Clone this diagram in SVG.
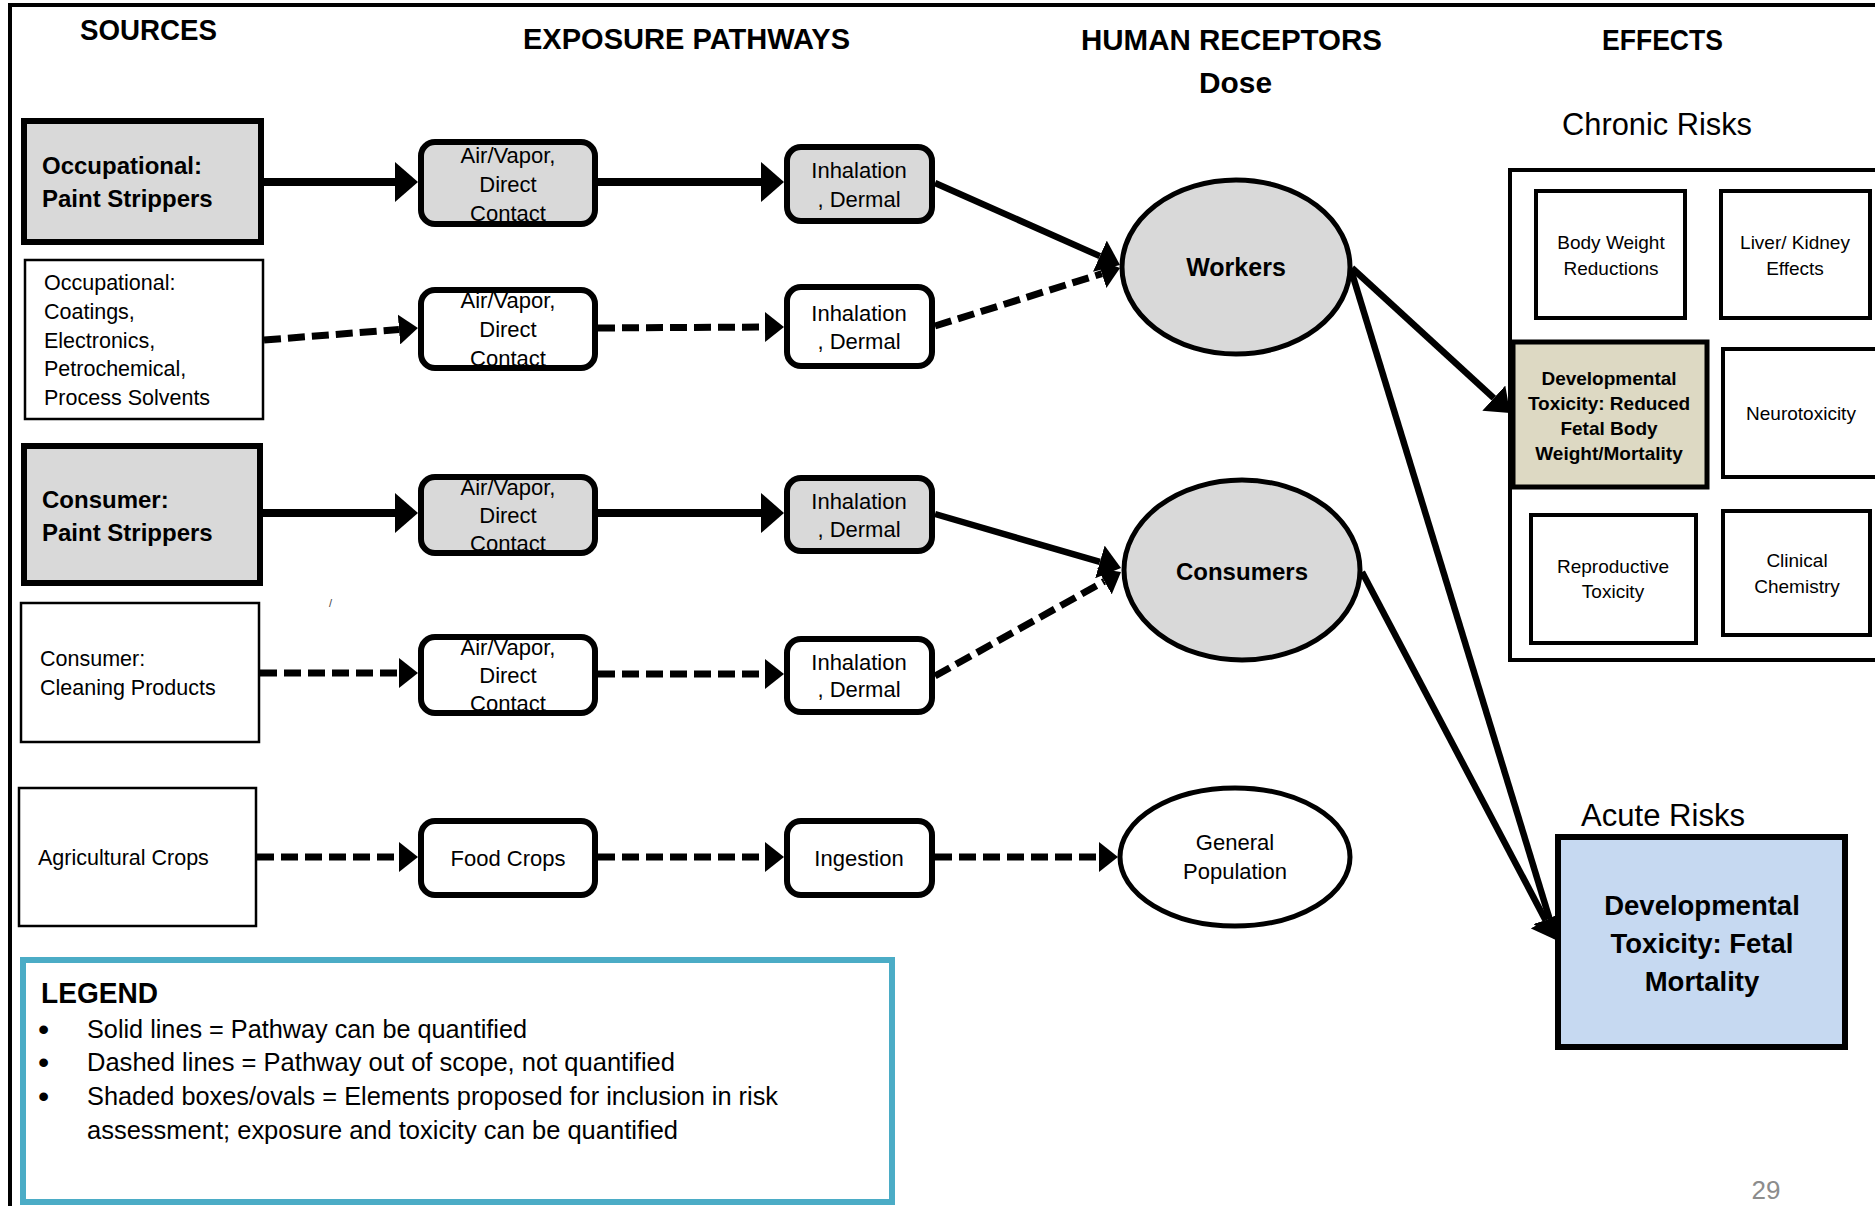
<svg xmlns="http://www.w3.org/2000/svg" width="1875" height="1206" viewBox="0 0 1875 1206">
<defs>
<style>
text{font-family:"Liberation Sans",Arial,sans-serif;fill:#000}
.b{font-weight:bold}
.c{text-anchor:middle}
.h{font-size:29px;font-weight:bold}
.src{font-size:21.5px}
.srcb{font-size:24px;font-weight:bold}
.pw{font-size:22px;text-anchor:middle}
.ef{font-size:19px;text-anchor:middle}
.box{stroke:#000;fill:#fff}
.shade{fill:#d9d9d9}
.thick{stroke-width:6}
.thin{stroke-width:2.5}
.rr{stroke:#000;stroke-width:6;fill:#fff}
.rr.shade{fill:#d9d9d9}
.ell{stroke:#000;stroke-width:5;fill:#fff}
.ell.shade{fill:#d9d9d9}
.eb{stroke:#000;stroke-width:4;fill:#fff}
.sol{stroke:#000;stroke-width:8;fill:none}
.sold{stroke:#000;stroke-width:6.5;fill:none}
.dash{stroke:#000;stroke-width:7;fill:none;stroke-dasharray:17 7}
.leg{font-size:25px}
.bul{font-size:32px}
</style>
<marker id="arr" viewBox="0 0 23 40" refX="0" refY="20" markerWidth="23" markerHeight="40" orient="auto" markerUnits="userSpaceOnUse"><path d="M0,0 L23,20 L0,40 z" fill="#000"/></marker>
<marker id="arrm" viewBox="0 0 22 34" refX="0" refY="17" markerWidth="22" markerHeight="34" orient="auto" markerUnits="userSpaceOnUse"><path d="M0,0 L22,17 L0,34 z" fill="#000"/></marker>
<marker id="arrd" viewBox="0 0 19 30" refX="0" refY="15" markerWidth="19" markerHeight="30" orient="auto" markerUnits="userSpaceOnUse"><path d="M0,0 L19,15 L0,30 z" fill="#000"/></marker>
</defs>
<rect width="1875" height="1206" fill="#fff"/>
<path d="M10,1206 V5 H1875" fill="none" stroke="#000" stroke-width="4"/>

<g id="headings">
<text class="h" x="80" y="40" textLength="137" lengthAdjust="spacingAndGlyphs">SOURCES</text>
<text class="h" x="523" y="49" textLength="327" lengthAdjust="spacingAndGlyphs">EXPOSURE PATHWAYS</text>
<text class="h" x="1081" y="50" textLength="301" lengthAdjust="spacingAndGlyphs">HUMAN RECEPTORS</text>
<text class="h" x="1199" y="93" textLength="73" lengthAdjust="spacingAndGlyphs">Dose</text>
<text class="h" x="1602" y="50" textLength="121" lengthAdjust="spacingAndGlyphs">EFFECTS</text>
<text x="1562" y="135" font-size="31" textLength="190" lengthAdjust="spacingAndGlyphs">Chronic Risks</text>
<text x="1581" y="826" font-size="31" textLength="164" lengthAdjust="spacingAndGlyphs">Acute Risks</text>
</g>

<g id="connectors">
<line class="sol" x1="264" y1="182" x2="395" y2="182" marker-end="url(#arr)"/>
<line class="sol" x1="598" y1="182" x2="761" y2="182" marker-end="url(#arr)"/>
<line class="dash" x1="264" y1="340" x2="399" y2="329.5" marker-end="url(#arrd)"/>
<line class="dash" x1="598" y1="328" x2="765" y2="327" marker-end="url(#arrd)"/>
<line class="sol" x1="263" y1="513" x2="395" y2="513" marker-end="url(#arr)"/>
<line class="sol" x1="598" y1="513" x2="761" y2="513" marker-end="url(#arr)"/>
<line class="dash" x1="260" y1="673" x2="399" y2="673" marker-end="url(#arrd)"/>
<line class="dash" x1="598" y1="674" x2="765" y2="674" marker-end="url(#arrd)"/>
<line class="dash" x1="257" y1="857" x2="399" y2="857" marker-end="url(#arrd)"/>
<line class="dash" x1="598" y1="857" x2="765" y2="857" marker-end="url(#arrd)"/>
<line class="dash" x1="935" y1="857" x2="1099" y2="857" marker-end="url(#arrd)"/>
<line class="sold" x1="935" y1="183" x2="1099.9" y2="256.1" marker-end="url(#arrm)"/>
<line class="dash" x1="935" y1="326" x2="1101.9" y2="273.7" marker-end="url(#arrd)"/>
<line class="sold" x1="935" y1="514" x2="1099.9" y2="561.9" marker-end="url(#arrm)"/>
<line class="dash" x1="935" y1="676" x2="1104.4" y2="581.3" marker-end="url(#arrd)"/>
<line class="sold" x1="1352" y1="268" x2="1493.8" y2="398.1" marker-end="url(#arrm)"/>
<line class="sold" x1="1351" y1="270" x2="1549.6" y2="919" marker-end="url(#arrm)"/>
<line class="sold" x1="1362" y1="572" x2="1545.7" y2="920.5" marker-end="url(#arrm)"/>
</g>

<g id="src-occ-paint">
<rect class="box shade thick" x="24" y="121" width="237" height="121" style="fill:#d9d9d9"/>
<text class="srcb" x="42" y="174">Occupational:</text>
<text class="srcb" x="42" y="207">Paint Strippers</text>
</g>
<g id="src-occ-other">
<rect class="box thin" x="25" y="260" width="238" height="159"/>
<text class="src" x="44" y="290">Occupational:</text>
<text class="src" x="44" y="319">Coatings,</text>
<text class="src" x="44" y="348">Electronics,</text>
<text class="src" x="44" y="376">Petrochemical,</text>
<text class="src" x="44" y="405">Process Solvents</text>
</g>
<g id="src-cons-paint">
<rect class="box shade thick" x="24" y="446" width="236" height="137" style="fill:#d9d9d9"/>
<text class="srcb" x="42" y="508">Consumer:</text>
<text class="srcb" x="42" y="541">Paint Strippers</text>
</g>
<g id="src-cons-clean">
<rect class="box thin" x="21" y="603" width="238" height="139"/>
<text class="src" x="40" y="666">Consumer:</text>
<text class="src" x="40" y="695">Cleaning Products</text>
</g>
<g id="src-agri">
<rect class="box thin" x="19" y="788" width="237" height="138"/>
<text class="src" x="38" y="865">Agricultural Crops</text>
</g>
<text x="329" y="607" font-size="11" style="fill:#444">/</text>

<g id="av1">
<rect class="rr shade" x="421" y="142" width="174" height="82" rx="14"/>
<text class="pw" x="508" y="163">Air/Vapor,</text>
<text class="pw" x="508" y="192">Direct</text>
<text class="pw" x="508" y="221">Contact</text>
</g>
<g id="av2">
<rect class="rr" x="421" y="290" width="174" height="78" rx="14"/>
<text class="pw" x="508" y="308">Air/Vapor,</text>
<text class="pw" x="508" y="337">Direct</text>
<text class="pw" x="508" y="366">Contact</text>
</g>
<g id="av3">
<rect class="rr shade" x="421" y="477" width="174" height="76" rx="14"/>
<text class="pw" x="508" y="495">Air/Vapor,</text>
<text class="pw" x="508" y="523">Direct</text>
<text class="pw" x="508" y="551">Contact</text>
</g>
<g id="av4">
<rect class="rr" x="421" y="637" width="174" height="76" rx="14"/>
<text class="pw" x="508" y="655">Air/Vapor,</text>
<text class="pw" x="508" y="683">Direct</text>
<text class="pw" x="508" y="711">Contact</text>
</g>
<g id="food">
<rect class="rr" x="421" y="821" width="174" height="74" rx="14"/>
<text class="pw" x="508" y="866">Food Crops</text>
</g>

<g id="inh1">
<rect class="rr shade" x="787" y="147" width="145" height="74" rx="14"/>
<text class="pw" x="859" y="178">Inhalation</text>
<text class="pw" x="859" y="207">, Dermal</text>
</g>
<g id="inh2">
<rect class="rr" x="787" y="287" width="145" height="79" rx="14"/>
<text class="pw" x="859" y="321">Inhalation</text>
<text class="pw" x="859" y="349">, Dermal</text>
</g>
<g id="inh3">
<rect class="rr shade" x="787" y="478" width="145" height="73" rx="14"/>
<text class="pw" x="859" y="509">Inhalation</text>
<text class="pw" x="859" y="537">, Dermal</text>
</g>
<g id="inh4">
<rect class="rr" x="787" y="639" width="145" height="73" rx="14"/>
<text class="pw" x="859" y="670">Inhalation</text>
<text class="pw" x="859" y="697">, Dermal</text>
</g>
<g id="ingest">
<rect class="rr" x="787" y="821" width="145" height="74" rx="14"/>
<text class="pw" x="859" y="866">Ingestion</text>
</g>

<g id="workers">
<ellipse class="ell shade" cx="1236" cy="267" rx="114" ry="87"/>
<text class="b c" x="1236" y="276" font-size="25">Workers</text>
</g>
<g id="consumers">
<ellipse class="ell shade" cx="1242" cy="570" rx="118" ry="90"/>
<text class="b c" x="1242" y="580" font-size="24">Consumers</text>
</g>
<g id="genpop">
<ellipse class="ell" cx="1235" cy="857" rx="115" ry="69"/>
<text class="pw" x="1235" y="850">General</text>
<text class="pw" x="1235" y="879">Population</text>
</g>

<g id="chronic">
<rect class="eb" x="1510" y="170" width="400" height="490"/>
</g>
<g id="bodyweight">
<rect class="eb" x="1536" y="191" width="149" height="127"/>
<text class="ef" x="1611" y="249">Body Weight</text>
<text class="ef" x="1611" y="275">Reductions</text>
</g>
<g id="liver">
<rect class="eb" x="1721" y="191" width="149" height="127"/>
<text class="ef" x="1795" y="249">Liver/ Kidney</text>
<text class="ef" x="1795" y="275">Effects</text>
</g>
<g id="devtox-chronic">
<rect x="1513" y="342" width="194" height="145" fill="#ddd9c3" stroke="#000" stroke-width="5"/>
<text class="b c" x="1609" y="385" font-size="19">Developmental</text>
<text class="b c" x="1609" y="410" font-size="19">Toxicity: Reduced</text>
<text class="b c" x="1609" y="435" font-size="19">Fetal Body</text>
<text class="b c" x="1609" y="460" font-size="19">Weight/Mortality</text>
</g>
<g id="neuro">
<rect class="eb" x="1723" y="349" width="160" height="128"/>
<text class="ef" x="1801" y="420">Neurotoxicity</text>
</g>
<g id="repro">
<rect class="eb" x="1531" y="515" width="165" height="128"/>
<text class="ef" x="1613" y="573">Reproductive</text>
<text class="ef" x="1613" y="598">Toxicity</text>
</g>
<g id="clinical">
<rect class="eb" x="1723" y="511" width="147" height="124"/>
<text class="ef" x="1797" y="567">Clinical</text>
<text class="ef" x="1797" y="593">Chemistry</text>
</g>
<g id="devtox-acute">
<rect x="1558" y="837" width="287" height="210" fill="#c6d9f1" stroke="#000" stroke-width="6"/>
<text class="b c" x="1702" y="915" font-size="27.5">Developmental</text>
<text class="b c" x="1702" y="953" font-size="27.5">Toxicity: Fetal</text>
<text class="b c" x="1702" y="991" font-size="27.5">Mortality</text>
</g>

<g id="legend">
<rect x="23" y="960" width="869" height="242" fill="#fff" stroke="#4bacc6" stroke-width="6"/>
<text class="b" x="41" y="1003" font-size="29" textLength="117" lengthAdjust="spacingAndGlyphs">LEGEND</text>
<text class="bul" x="38" y="1040">•</text>
<text class="bul" x="38" y="1073">•</text>
<text class="bul" x="38" y="1107">•</text>
<text class="leg" x="87" y="1038" textLength="440" lengthAdjust="spacingAndGlyphs">Solid lines = Pathway can be quantified</text>
<text class="leg" x="87" y="1071" textLength="588" lengthAdjust="spacingAndGlyphs">Dashed lines = Pathway out of scope, not quantified</text>
<text class="leg" x="87" y="1105" textLength="691" lengthAdjust="spacingAndGlyphs">Shaded boxes/ovals = Elements proposed for inclusion in risk</text>
<text class="leg" x="87" y="1139" textLength="591" lengthAdjust="spacingAndGlyphs">assessment; exposure and toxicity can be quantified</text>
</g>
<text class="c" x="1766" y="1199" font-size="26" style="fill:#8c8c8c">29</text>
</svg>
